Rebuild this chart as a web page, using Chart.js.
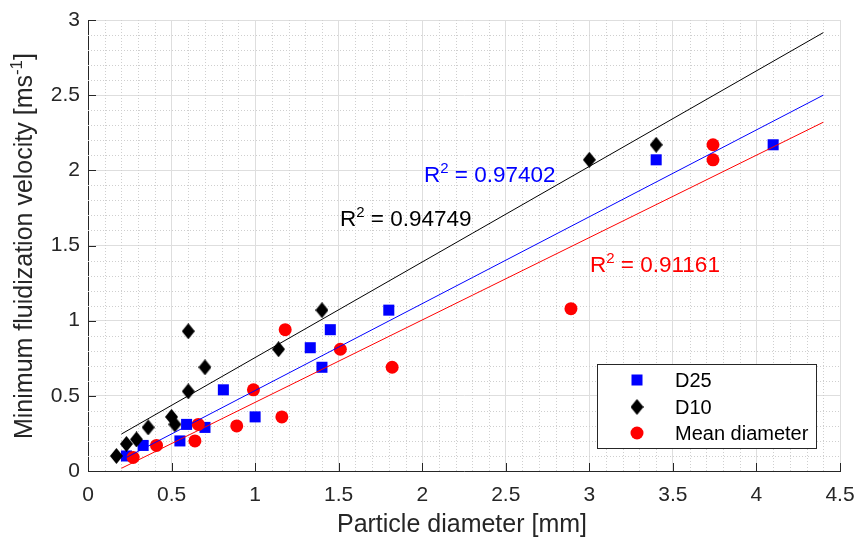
<!DOCTYPE html>
<html><head><meta charset="utf-8">
<script src="https://cdn.jsdelivr.net/npm/chart.js@4.4.1/dist/chart.umd.min.js"></script>
<style>html,body{margin:0;padding:0;background:#fff;}#wrap{width:858px;height:542px;position:relative;}</style>
</head><body><div id="wrap"><canvas id="c" width="858" height="542"></canvas></div>
<script>
// ---- data ----
const d25X  = [0.23, 0.33, 0.55, 0.59, 0.70, 0.81, 1.00, 1.33, 1.40, 1.45, 1.80, 3.40, 4.10];
const d25Y  = [0.10, 0.17, 0.20, 0.31, 0.29, 0.54, 0.36, 0.82, 0.69, 0.94, 1.07, 2.07, 2.17];
const d10X  = [0.17, 0.23, 0.29, 0.36, 0.50, 0.52, 0.60, 0.60, 0.70, 1.14, 1.40, 3.00, 3.40];
const d10Y  = [0.10, 0.18, 0.21, 0.29, 0.36, 0.31, 0.93, 0.53, 0.69, 0.81, 1.07, 2.07, 2.17];
const meanX = [0.27, 0.41, 0.64, 0.66, 0.89, 0.99, 1.16, 1.18, 1.51, 1.82, 2.89, 3.74, 3.74];
const meanY = [0.09, 0.17, 0.20, 0.31, 0.30, 0.54, 0.36, 0.94, 0.81, 0.69, 1.08, 2.17, 2.07];
const fitX    = [0.2, 4.4];
const fitD10  = [0.246, 2.916];
const fitD25  = [0.073, 2.50];
const fitMean = [0.018, 2.32];
const xTicks = [0, 0.5, 1, 1.5, 2, 2.5, 3, 3.5, 4, 4.5];
const yTicks = [0, 0.5, 1, 1.5, 2, 2.5, 3];
const seriesNames = ['D25', 'D10', 'Mean diameter'];
const r2Texts = ['0.97402', '0.94749', '0.91161'];
const xTitle = 'Particle diameter [mm]';
const yTitle = 'Minimum fluidization velocity [ms';
const yTitleSup = '-1';

const FONT = '"Liberation Sans", Arial, Helvetica, sans-serif';
const AX = '#262626';
const pts = (xs, ys) => xs.map((x, i) => ({x: x, y: ys[i]}));
const fmt = v => String(Number(v));

// diamond marker (taller than wide)
function diamond(w, h, color) {
  const c = document.createElement('canvas');
  c.width = w; c.height = h;
  const g = c.getContext('2d');
  g.fillStyle = color;
  g.beginPath();
  g.moveTo(w / 2, 0); g.lineTo(w, h / 2); g.lineTo(w / 2, h); g.lineTo(0, h / 2);
  g.closePath(); g.fill();
  return c;
}
const diamondImg = diamond(13, 16, '#000');

const extras = {
  id: 'extras',
  beforeDatasetsDraw(chart) {
    const {ctx, chartArea: a, scales: {x, y}} = chart;
    ctx.save();
    // minor dotted grid
    ctx.strokeStyle = '#cfcfcf';
    ctx.lineWidth = 1;
    ctx.setLineDash([1, 2]);
    for (let k = 1; k < 45; k++) {
      if (k % 5 === 0) continue;
      const px = Math.round(x.getPixelForValue(k / 10)) + 0.5;
      ctx.beginPath(); ctx.moveTo(px, a.top); ctx.lineTo(px, a.bottom); ctx.stroke();
    }
    for (let k = 1; k < 30; k++) {
      if (k % 5 === 0) continue;
      const py = Math.round(y.getPixelForValue(k / 10)) + 0.5;
      ctx.beginPath(); ctx.moveTo(a.left, py); ctx.lineTo(a.right, py); ctx.stroke();
    }
    ctx.setLineDash([]);
    // inward major ticks
    ctx.strokeStyle = AX;
    xTicks.forEach(v => {
      const px = Math.round(x.getPixelForValue(v)) + 0.5;
      ctx.beginPath(); ctx.moveTo(px, a.bottom); ctx.lineTo(px, a.bottom - 8); ctx.stroke();
    });
    yTicks.forEach(v => {
      const py = Math.round(y.getPixelForValue(v)) + 0.5;
      ctx.beginPath(); ctx.moveTo(a.left, py); ctx.lineTo(a.left + 8, py); ctx.stroke();
    });
    ctx.restore();
  },
  afterDraw(chart) {
    const {ctx} = chart;
    ctx.save();
    // axis titles
    ctx.fillStyle = AX;
    ctx.font = '25px ' + FONT;
    ctx.textAlign = 'center';
    ctx.textBaseline = 'alphabetic';
    ctx.fillText(xTitle, 462, 532);
    // y title with superscript
    ctx.translate(32, 246);
    ctx.rotate(-Math.PI / 2);
    ctx.font = '25px ' + FONT;
    const w1 = ctx.measureText(yTitle).width;
    ctx.font = '17px ' + FONT;
    const w2 = ctx.measureText(yTitleSup).width;
    ctx.font = '25px ' + FONT;
    const w3 = ctx.measureText(']').width;
    let sx = -(w1 + w2 + w3) / 2;
    ctx.textAlign = 'left';
    ctx.fillText(yTitle, sx, 0);
    ctx.font = '17px ' + FONT;
    ctx.fillText(yTitleSup, sx + w1, -10);
    ctx.font = '25px ' + FONT;
    ctx.fillText(']', sx + w1 + w2, 0);
    ctx.restore();

    // R^2 annotations
    const r2 = (txt, px, py, col) => {
      ctx.save();
      ctx.fillStyle = col;
      ctx.textAlign = 'left';
      ctx.textBaseline = 'alphabetic';
      ctx.font = '22.5px ' + FONT;
      ctx.fillText('R', px, py);
      const wr = ctx.measureText('R').width;
      ctx.font = '15px ' + FONT;
      ctx.fillText('2', px + wr, py - 9);
      const w2b = ctx.measureText('2').width;
      ctx.font = '22.5px ' + FONT;
      ctx.fillText(' = ' + txt, px + wr + w2b, py);
      ctx.restore();
    };
    r2(r2Texts[0], 424, 182, '#0000ff');
    r2(r2Texts[1], 340, 226, '#000000');
    r2(r2Texts[2], 590, 272, '#ff0000');

    // legend
    ctx.save();
    ctx.fillStyle = '#fff';
    ctx.fillRect(597, 364, 220, 85);
    ctx.strokeStyle = AX;
    ctx.lineWidth = 1;
    ctx.strokeRect(597.5, 364.5, 219, 84);
    const mx = 637, rows = [380, 407, 433];
    ctx.fillStyle = '#0000ff';
    ctx.fillRect(mx - 5.5, rows[0] - 5.5, 11, 11);
    ctx.drawImage(diamondImg, mx - 6.5, rows[1] - 8);
    ctx.fillStyle = '#ff0000';
    ctx.beginPath(); ctx.arc(mx, rows[2], 6.5, 0, Math.PI * 2); ctx.fill();
    ctx.fillStyle = '#000';
    ctx.font = '20px ' + FONT;
    ctx.textAlign = 'left';
    ctx.textBaseline = 'middle';
    seriesNames.forEach((n, i) => ctx.fillText(n, 675, rows[i] + 1));
    ctx.restore();
  }
};

new Chart(document.getElementById('c'), {
  type: 'scatter',
  data: {
    datasets: [
      {label: 'fitD10', type: 'line', data: pts(fitX, fitD10), borderColor: '#000', borderWidth: 1, pointRadius: 0, fill: false, order: 0},
      {label: 'fitD25', type: 'line', data: pts(fitX, fitD25), borderColor: '#0000ff', borderWidth: 1, pointRadius: 0, fill: false, order: 0},
      {label: 'fitMean', type: 'line', data: pts(fitX, fitMean), borderColor: '#ff0000', borderWidth: 1, pointRadius: 0, fill: false, order: 0},
      {label: seriesNames[2], data: pts(meanX, meanY), pointStyle: 'circle', pointRadius: 6.5, borderWidth: 0, backgroundColor: '#ff0000', order: 1},
      {label: seriesNames[1], data: pts(d10X, d10Y), pointStyle: diamondImg, pointRadius: 7, order: 2},
      {label: seriesNames[0], data: pts(d25X, d25Y), pointStyle: 'rect', pointRadius: 7.8, borderWidth: 0, backgroundColor: '#0000ff', order: 3}
    ]
  },
  options: {
    responsive: false,
    animation: false,
    devicePixelRatio: 1,
    layout: {padding: {top: 20, right: 18, left: 0, bottom: 0}},
    plugins: {legend: {display: false}, tooltip: {enabled: false}},
    scales: {
      x: {
        type: 'linear', min: 0, max: 4.5,
        afterBuildTicks: s => { s.ticks = xTicks.map(v => ({value: v})); },
        afterFit: s => { s.height = 71; s.paddingLeft = 0; s.paddingRight = 0; },
        ticks: {color: AX, font: {family: FONT, size: 21}, padding: 12, maxRotation: 0, autoSkip: false, callback: fmt},
        grid: {color: '#dedede', lineWidth: 1, drawTicks: false},
        border: {display: true, color: AX, width: 1}
      },
      y: {
        type: 'linear', min: 0, max: 3,
        afterBuildTicks: s => { s.ticks = yTicks.map(v => ({value: v})); },
        afterFit: s => { s.width = 88; s.paddingTop = 0; s.paddingBottom = 0; },
        ticks: {color: AX, font: {family: FONT, size: 21}, padding: 8, autoSkip: false, callback: fmt},
        grid: {color: '#dedede', lineWidth: 1, drawTicks: false},
        border: {display: true, color: AX, width: 1}
      }
    }
  },
  plugins: [extras]
});
</script></body></html>
